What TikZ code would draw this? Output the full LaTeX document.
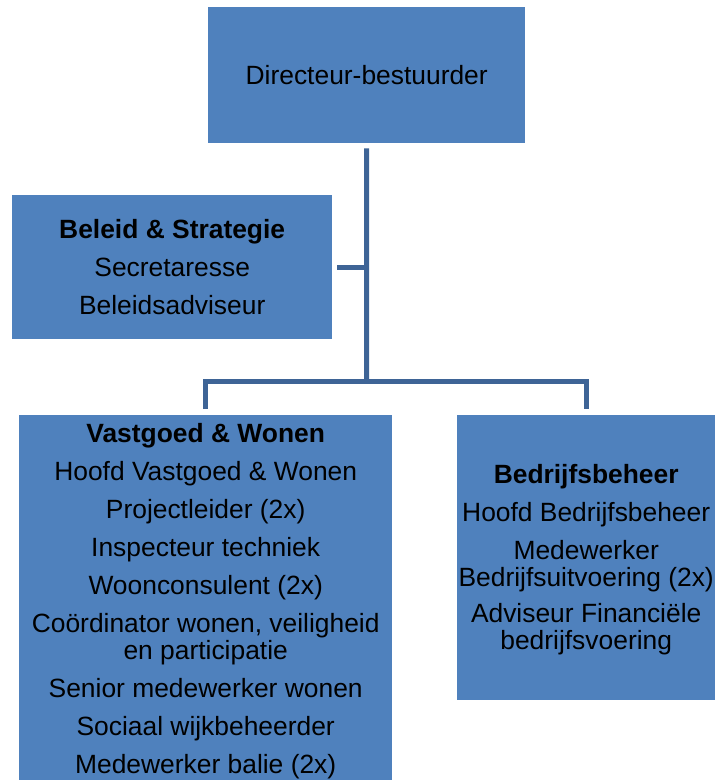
\documentclass[tikz,border=0pt]{standalone}
\usepackage{fontspec}
\setmainfont{Liberation Sans}
\definecolor{boxblue}{RGB}{79,129,189}
\definecolor{lineblue}{RGB}{62,100,150}
\begin{document}
\begin{tikzpicture}[x=1pt,y=-1pt,
  box/.style={fill=boxblue, draw=none, inner sep=0pt, anchor=north west},
  conn/.style={draw=lineblue, line width=5pt},
  txt/.style={font=\fontsize{26.4}{27}\selectfont, align=center, inner sep=0pt, text=black}]
\useasboundingbox (0,0) rectangle (715,780);
% boxes
\node[box, minimum width=317pt, minimum height=136pt] (dir) at (208,7) {};
\node[box, minimum width=320pt, minimum height=144pt] (bs) at (12,195) {};
\node[box, minimum width=373pt, minimum height=365pt] (vw) at (19,415) {};
\node[box, minimum width=258pt, minimum height=285pt] (bb) at (457,415) {};
% texts
\node[txt] (dirt) at (dir.center) {Directeur-bestuurder};
\node[txt] (bst) at (bs.center) {\textbf{Beleid \& Strategie}\\[11pt]Secretaresse\\[11pt]Beleidsadviseur};
\node[txt, anchor=north] (vwt) at ([yshift=-8pt]vw.north) {\textbf{Vastgoed \& Wonen}\\[11pt]Hoofd Vastgoed \& Wonen\\[11pt]Projectleider (2x)\\[11pt]Inspecteur techniek\\[11pt]Woonconsulent (2x)\\[11pt]Coördinator wonen, veiligheid\\en participatie\\[11pt]Senior medewerker wonen\\[11pt]Sociaal wijkbeheerder\\[11pt]Medewerker balie (2x)};
\node[txt] (bbt) at ([yshift=-2pt]bb.center) {\textbf{Bedrijfsbeheer}\\[11pt]Hoofd Bedrijfsbeheer\\[11pt]Medewerker\\Bedrijfsuitvoering (2x)\\[9pt]Adviseur Financiële\\bedrijfsvoering};
% connectors
\coordinate (j1) at (366.5,381);
\draw[conn] ([yshift=-5pt]dir.south) -- (j1);
\draw[conn] ([xshift=5pt]bs.east) -- (bs.east -| j1);
\draw[conn] ([yshift=6pt]vw.north) |- (j1) -| ([yshift=6pt]bb.north);
\end{tikzpicture}
\end{document}
